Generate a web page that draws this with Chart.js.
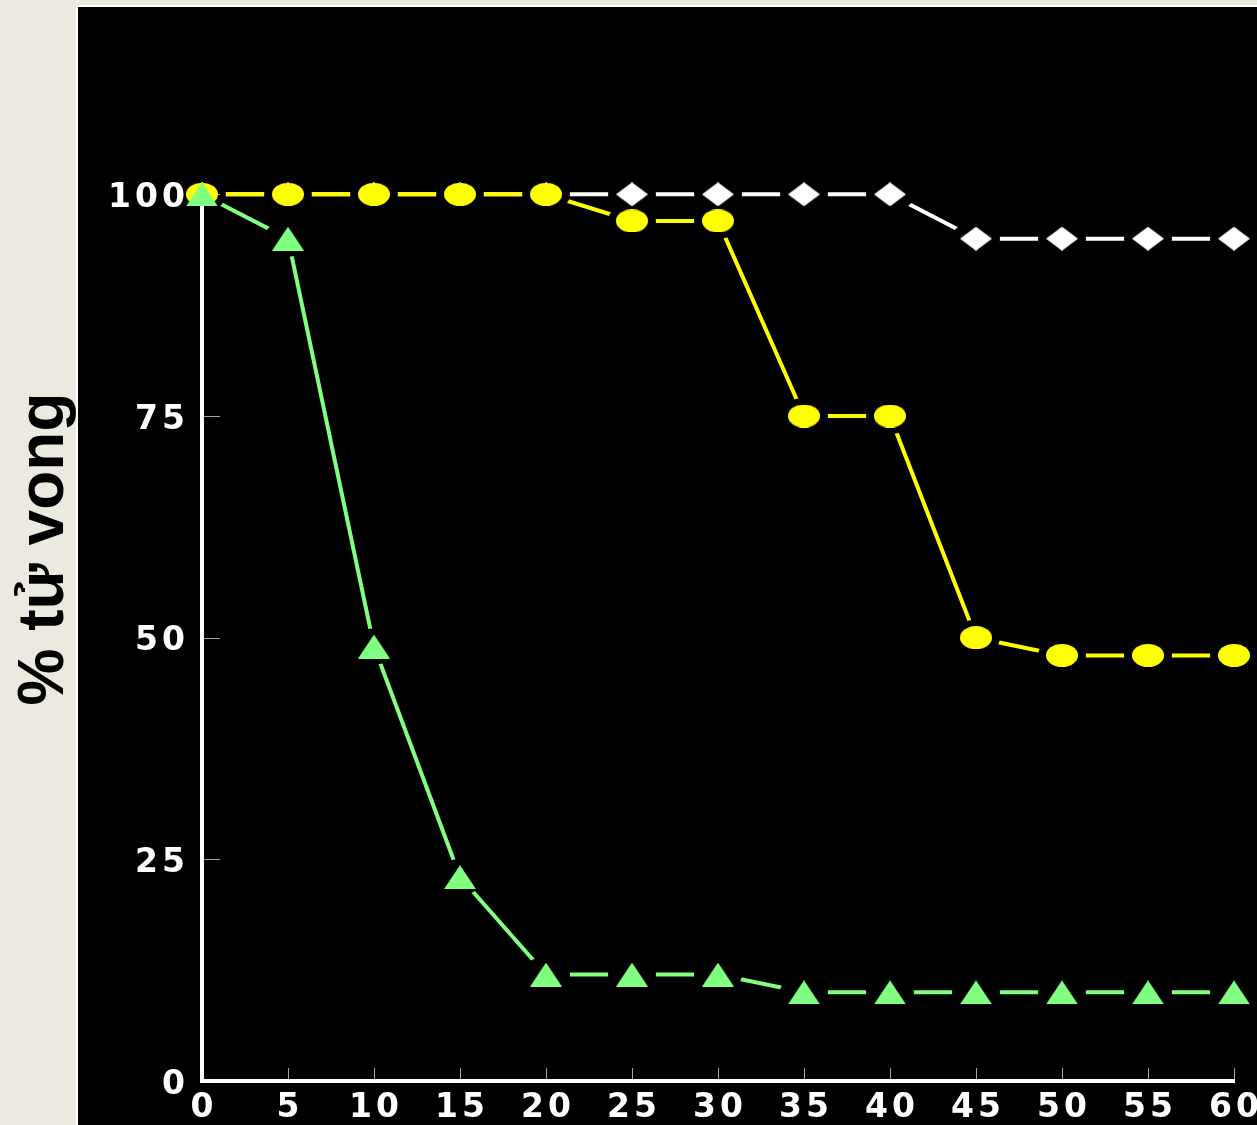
<!DOCTYPE html>
<html>
<head>
<meta charset="utf-8">
<script src="https://cdn.jsdelivr.net/npm/chart.js@4/dist/chart.umd.min.js"></script>
<style>
  html, body { margin: 0; padding: 0; overflow: hidden; background: #ECEAE0; }
  #wrap { width: 1300px; height: 1125px; position: relative; }
</style>
</head>
<body>
<div id="wrap"><canvas id="c"></canvas></div>
<script>
// Time points (x) and tick values
const minutes = [0, 5, 10, 15, 20, 25, 30, 35, 40, 45, 50, 55, 60];
const xTicks  = [0, 5, 10, 15, 20, 25, 30, 35, 40, 45, 50, 55, 60];
const yTicks  = [0, 25, 50, 75, 100];

// Mortality (%) for each group
const seriesDiamond  = [100, 100, 100, 100, 100, 100, 100, 100, 100, 95, 95, 95, 95];
const seriesCircle   = [100, 100, 100, 100, 100, 97, 97, 75, 75, 50, 48, 48, 48];
const seriesTriangle = [100, 95, 49, 23, 12, 12, 12, 10, 10, 10, 10, 10, 10];

const yAxisTitle = '% tử vong';

const WHITE = '#FFFFFF', YELLOW = '#FFFF00', GREEN = '#80FF80';

// Marker sprites (slightly wide shapes)
function marker(shape, color, w, h) {
  const cv = document.createElement('canvas');
  cv.width = w; cv.height = h;
  const g = cv.getContext('2d');
  g.fillStyle = color;
  g.beginPath();
  if (shape === 'ellipse') {
    g.ellipse(w / 2, h / 2, w / 2, h / 2, 0, 0, Math.PI * 2);
  } else if (shape === 'diamond') {
    g.moveTo(w / 2, 0); g.lineTo(w, h / 2); g.lineTo(w / 2, h); g.lineTo(0, h / 2); g.closePath();
  } else {
    g.moveTo(w / 2, 0); g.lineTo(w, h); g.lineTo(0, h); g.closePath();
  }
  g.fill();
  return cv;
}
const mkDiamond  = marker('diamond', WHITE, 32, 24);
const mkCircle   = marker('ellipse', YELLOW, 32, 23);
const mkTriangle = marker('triangle', GREEN, 32, 24);

const pts = arr => minutes.map((m, i) => ({ x: m, y: arr[i] }));

function lineSet(label, arr, color) {
  return { label, data: pts(arr), borderColor: color, borderWidth: 4, pointRadius: 0,
           showLine: true, tension: 0, clip: false, gapAround: true };
}
function pointSet(label, arr, sprite) {
  return { label, data: pts(arr), showLine: false, pointStyle: sprite, pointRadius: 16, clip: false };
}

// Background panel, inward tick marks and the vertical axis line
const panel = {
  id: 'panel',
  beforeDraw(chart) {
    const { ctx, width, height } = chart;
    ctx.save();
    ctx.fillStyle = '#ECEAE0'; ctx.fillRect(0, 0, width, height);
    ctx.fillStyle = '#FFFFFF'; ctx.fillRect(76, 5, width, height);
    ctx.fillStyle = '#000000'; ctx.fillRect(78, 7, width, height);
    ctx.restore();
    ctx.letterSpacing = '4px';
  },
  beforeDatasetsDraw(chart) {
    const { ctx } = chart;
    const xs = chart.scales.x, ys = chart.scales.y;
    ctx.letterSpacing = '0px';
    const x0 = xs.getPixelForValue(0), y0 = ys.getPixelForValue(0);
    ctx.save();
    ctx.strokeStyle = '#A8A8A8';
    ctx.lineWidth = 1;
    ctx.beginPath();
    xTicks.forEach(v => {
      if (v === 0) return;
      const px = Math.round(xs.getPixelForValue(v)) + 0.5;
      ctx.moveTo(px, y0 - 2); ctx.lineTo(px, y0 - 13);
    });
    yTicks.forEach(v => {
      if (v === 0) return;
      const py = Math.round(ys.getPixelForValue(v)) + 0.5;
      ctx.moveTo(x0 + 2, py); ctx.lineTo(x0 + 18, py);
    });
    ctx.stroke();
    ctx.strokeStyle = '#FFFFFF';
    ctx.lineWidth = 4;
    ctx.beginPath();
    ctx.moveTo(x0, y0 + 2);
    ctx.lineTo(x0, ys.getPixelForValue(yTicks[yTicks.length - 1]));
    ctx.stroke();
    ctx.restore();
  },
  afterDraw(chart) { chart.ctx.letterSpacing = '0px'; }
};

// Leave a small gap in connecting lines around each marker
const gaps = {
  id: 'gaps',
  beforeDatasetDraw(chart, args) {
    const ds = chart.data.datasets[args.index];
    if (!ds.gapAround) return;
    const ctx = chart.ctx;
    ctx.save();
    ctx.beginPath();
    ctx.rect(0, 0, chart.width, chart.height);
    args.meta.data.forEach(p => {
      ctx.moveTo(p.x + 24, p.y);
      ctx.ellipse(p.x, p.y, 24, 18, 0, 0, Math.PI * 2);
    });
    ctx.clip('evenodd');
  },
  afterDatasetDraw(chart, args) {
    if (chart.data.datasets[args.index].gapAround) chart.ctx.restore();
  }
};

const tickFont = { family: 'DejaVu Sans', size: 33, weight: 'bold' };

new Chart(document.getElementById('c'), {
  type: 'line',
  data: {
    datasets: [
      pointSet('Nhóm 3', seriesTriangle, mkTriangle),
      lineSet('Nhóm 3', seriesTriangle, GREEN),
      pointSet('Nhóm 2', seriesCircle, mkCircle),
      lineSet('Nhóm 2', seriesCircle, YELLOW),
      pointSet('Nhóm 1', seriesDiamond, mkDiamond),
      lineSet('Nhóm 1', seriesDiamond, WHITE)
    ]
  },
  options: {
    responsive: true,
    maintainAspectRatio: false,
    animation: false,
    events: [],
    layout: { padding: { top: 13, right: 66, bottom: 0, left: 0 } },
    plugins: { legend: { display: false }, tooltip: { enabled: false } },
    scales: {
      x: {
        type: 'linear', min: 0, max: 60,
        afterBuildTicks: s => { s.ticks = xTicks.map(v => ({ value: v })); },
        afterFit: s => { s.height = 44; },
        ticks: { color: '#FFFFFF', font: tickFont, padding: 8, maxRotation: 0, autoSkip: false, labelOffset: 2 },
        grid: { display: false, drawTicks: false },
        border: { display: true, color: '#FFFFFF', width: 4 }
      },
      y: {
        type: 'linear', min: 0, max: 120,
        afterBuildTicks: s => { s.ticks = yTicks.map(v => ({ value: v })); },
        afterFit: s => { s.width = 202; s.paddingTop = 0; s.paddingBottom = 0; },
        ticks: { color: '#FFFFFF', font: tickFont, padding: 13, labelOffset: 4 },
        grid: { display: false, drawTicks: false, z: 1 },
        border: { display: false },
        title: {
          display: true, text: yAxisTitle, color: '#000000',
          font: { family: 'Liberation Sans', size: 64, weight: 'bold' },
          padding: { top: 7, bottom: 0 }
        }
      }
    }
  },
  plugins: [panel, gaps]
});
</script>
</body>
</html>
